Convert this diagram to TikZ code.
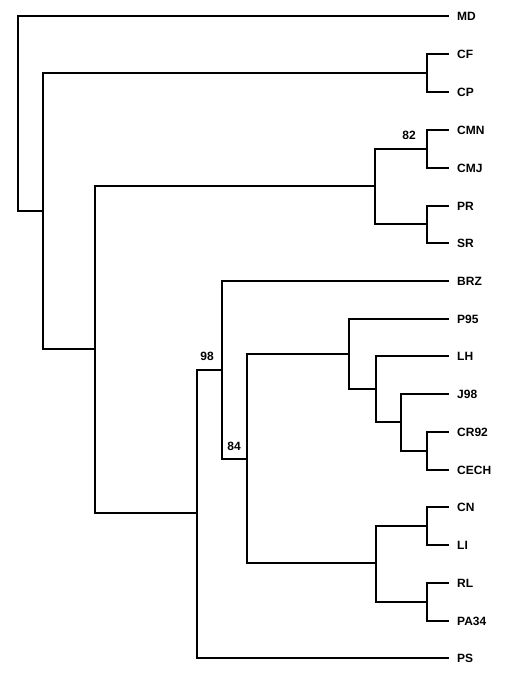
\documentclass[tikz,border=0pt]{standalone}
\usepackage{fontspec}
\setmainfont{Liberation Sans}
\begin{document}
\begin{tikzpicture}[x=1pt,y=-1pt,
  branch/.style={line width=2pt,line cap=rect},
  leaf/.style={anchor=west,inner xsep=9pt,inner ysep=0pt,font=\fontsize{12}{14}\selectfont\bfseries},
  boot/.style={inner sep=0pt,font=\fontsize{12}{14}\selectfont\bfseries}]
\useasboundingbox (0,0) rectangle (510,676);
% leaves
\foreach \n/\y in {MD/16,CF/54,CP/92,CMN/130,CMJ/168,PR/206,SR/243,BRZ/281,P95/319,LH/356,J98/394,CR92/432,CECH/470,CN/507,LI/545,RL/583,PA34/621,PS/658}
  \node[leaf] (\n) at (448,\y) {\n};
% internal nodes
\coordinate (R) at (18,16);
\coordinate (N2) at (43,211);
\coordinate (NCF) at (427,73);
\coordinate (N3) at (95,349);
\coordinate (NCM) at (375,186);
\coordinate (N82) at (427,149);
\coordinate (NPR) at (427,224);
\coordinate (N98) at (197,513);
\coordinate (NBRZ) at (222,370);
\coordinate (N84) at (247,459);
\coordinate (NP95) at (349,354);
\coordinate (NLH) at (376,389);
\coordinate (NJ98) at (401,422);
\coordinate (NCR) at (427,451);
\coordinate (NCN) at (376,563);
\coordinate (NCNLI) at (427,526);
\coordinate (NRL) at (427,602);
% edges
\draw[branch] (R) |- (MD.west);
\draw[branch] (R) |- (N2);
\draw[branch] (N2) |- (NCF);
\draw[branch] (NCF) |- (CF.west);
\draw[branch] (NCF) |- (CP.west);
\draw[branch] (N2) |- (N3);
\draw[branch] (N3) |- (NCM);
\draw[branch] (NCM) |- (N82);
\draw[branch] (N82) |- (CMN.west);
\draw[branch] (N82) |- (CMJ.west);
\draw[branch] (NCM) |- (NPR);
\draw[branch] (NPR) |- (PR.west);
\draw[branch] (NPR) |- (SR.west);
\draw[branch] (N3) |- (N98);
\draw[branch] (N98) |- (NBRZ);
\draw[branch] (N98) |- (PS.west);
\draw[branch] (NBRZ) |- (BRZ.west);
\draw[branch] (NBRZ) |- (N84);
\draw[branch] (N84) |- (NP95);
\draw[branch] (NP95) |- (P95.west);
\draw[branch] (NP95) |- (NLH);
\draw[branch] (NLH) |- (LH.west);
\draw[branch] (NLH) |- (NJ98);
\draw[branch] (NJ98) |- (J98.west);
\draw[branch] (NJ98) |- (NCR);
\draw[branch] (NCR) |- (CR92.west);
\draw[branch] (NCR) |- (CECH.west);
\draw[branch] (N84) |- (NCN);
\draw[branch] (NCN) |- (NCNLI);
\draw[branch] (NCNLI) |- (CN.west);
\draw[branch] (NCNLI) |- (LI.west);
\draw[branch] (NCN) |- (NRL);
\draw[branch] (NRL) |- (RL.west);
\draw[branch] (NRL) |- (PA34.west);
% bootstrap values
\node[boot] (b82) at (409,135) {82};
\node[boot] (b98) at (207,356) {98};
\node[boot] (b84) at (234,446) {84};
\end{tikzpicture}
\end{document}
